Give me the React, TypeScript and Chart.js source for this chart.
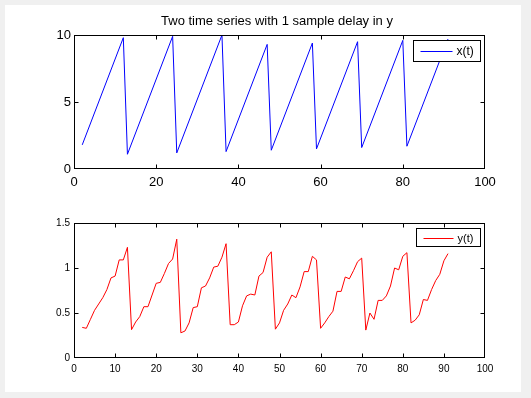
import React, { useEffect, useRef } from "react";
import { Chart, registerables } from "chart.js";

Chart.register(...registerables);

const titleText = "Two time series with 1 sample delay in y";

// x(t): sawtooth vertices (time, value)
const xTimes = [2, 12, 13, 24, 25, 36, 37, 47, 48, 58, 59, 69, 70, 80, 81, 91];
const xValues = [1.8, 9.8, 1.1, 9.9, 1.2, 10.0, 1.3, 9.3, 1.4, 9.4, 1.5, 9.5, 1.6, 9.6, 1.7, 9.7];

// y(t): one sample per time step
const yTimes = [
  2, 3, 4, 5, 6, 7, 8, 9, 10, 11, 12, 13, 14, 15, 16, 17, 18, 19, 20, 21, 22, 23, 24, 25,
  26, 27, 28, 29, 30, 31, 32, 33, 34, 35, 36, 37, 38, 39, 40, 41, 42, 43, 44, 45, 46, 47, 48,
  49, 50, 51, 52, 53, 54, 55, 56, 57, 58, 59, 60, 61, 62, 63, 64, 65, 66, 67, 68, 69, 70,
  71, 72, 73, 74, 75, 76, 77, 78, 79, 80, 81, 82, 83, 84, 85, 86, 87, 88, 89, 90, 91,
];
const yValues = [
  0.34, 0.33, 0.43, 0.53, 0.6, 0.67, 0.76, 0.89, 0.91, 1.09, 1.09, 1.23,
  0.315, 0.4, 0.46, 0.57, 0.57, 0.7, 0.83, 0.84, 0.94, 1.05, 1.1, 1.32,
  0.28, 0.3, 0.39, 0.56, 0.57, 0.78, 0.8, 0.89, 1.01, 1.02, 1.12, 1.27,
  0.37, 0.37, 0.4, 0.58, 0.69, 0.71, 0.7, 0.91, 0.95, 1.12, 1.18,
  0.32, 0.39, 0.53, 0.6, 0.7, 0.67, 0.79, 0.96, 0.96, 1.13, 1.09,
  0.33, 0.39, 0.46, 0.52, 0.74, 0.74, 0.9, 0.88, 0.97, 1.07, 1.11,
  0.31, 0.5, 0.43, 0.64, 0.64, 0.69, 0.8, 1.0, 0.98, 1.13, 1.17,
  0.39, 0.42, 0.48, 0.65, 0.64, 0.76, 0.86, 0.93, 1.08, 1.16,
];

const topXTicks = [0, 20, 40, 60, 80, 100];
const topYTicks = [0, 5, 10];
const botXTicks = [0, 10, 20, 30, 40, 50, 60, 70, 80, 90, 100];
const botYTicks = [0, 0.5, 1, 1.5];

const FONT = "'Liberation Sans', Arial, Helvetica, sans-serif";

type PanelCfg = {
  label: string;
  color: string;
  legendFont: number;
  box: { w: number; h: number };
  lineLen: number;
  title?: string;
};

function framePlugin(cfg: PanelCfg) {
  return {
    id: "frameLegend",
    afterDraw(chart: any) {
      const { ctx, chartArea: a, scales } = chart;
      const L = Math.round(a.left) + 0.5;
      const R = Math.round(a.right) - 0.5;
      const T = Math.round(a.top) + 0.5;
      const B = Math.round(a.bottom) - 0.5;
      ctx.save();
      ctx.strokeStyle = "#000";
      ctx.lineWidth = 1;
      ctx.strokeRect(L, T, R - L, B - T);
      const tl = 4;
      const clamp = (v: number, lo: number, hi: number) => Math.min(hi, Math.max(lo, v));
      ctx.beginPath();
      scales.x.ticks.forEach((t: any) => {
        const px = clamp(Math.round(scales.x.getPixelForValue(t.value)) + 0.5, L, R);
        ctx.moveTo(px, B);
        ctx.lineTo(px, B - tl);
        ctx.moveTo(px, T);
        ctx.lineTo(px, T + tl);
      });
      scales.y.ticks.forEach((t: any) => {
        const py = clamp(Math.round(scales.y.getPixelForValue(t.value)) + 0.5, T, B);
        ctx.moveTo(L, py);
        ctx.lineTo(L + tl, py);
        ctx.moveTo(R, py);
        ctx.lineTo(R - tl, py);
      });
      ctx.stroke();

      // legend box
      const bx = Math.round(a.right) - 5 - cfg.box.w + 0.5;
      const by = Math.round(a.top) + 5 + 0.5;
      ctx.fillStyle = "#fff";
      ctx.fillRect(bx, by, cfg.box.w, cfg.box.h);
      ctx.strokeStyle = "#000";
      ctx.strokeRect(bx, by, cfg.box.w, cfg.box.h);
      const cy = Math.round(by + cfg.box.h / 2) + 0.5;
      ctx.beginPath();
      ctx.strokeStyle = cfg.color;
      ctx.moveTo(bx + 7, cy);
      ctx.lineTo(bx + 7 + cfg.lineLen, cy);
      ctx.stroke();
      ctx.fillStyle = "#000";
      ctx.font = `${cfg.legendFont}px ${FONT}`;
      ctx.textAlign = "left";
      ctx.textBaseline = "middle";
      ctx.fillText(cfg.label, bx + 7 + cfg.lineLen + 4, cy);

      if (cfg.title) {
        ctx.font = `13px ${FONT}`;
        ctx.textAlign = "center";
        ctx.textBaseline = "alphabetic";
        ctx.fillStyle = "#000";
        ctx.fillText(cfg.title, 277, 25);
      }
      ctx.restore();
    },
  };
}

function makeScales(
  xTicks: number[],
  yTicks: number[],
  yMax: number,
  fontSize: number,
  yWidth: number,
  xHeight: number,
  xPad: number,
  yPad: number
) {
  const tickFont = { family: FONT, size: fontSize };
  return {
    x: {
      type: "linear",
      min: 0,
      max: 100,
      grid: { display: false, drawTicks: false },
      border: { display: false },
      ticks: { font: tickFont, color: "#000", padding: xPad, maxRotation: 0, autoSkip: false },
      afterBuildTicks: (s: any) => {
        s.ticks = xTicks.map((v) => ({ value: v }));
      },
      afterFit: (s: any) => {
        s.height = xHeight;
      },
    },
    y: {
      type: "linear",
      min: 0,
      max: yMax,
      grid: { display: false, drawTicks: false },
      border: { display: false },
      ticks: {
        font: tickFont,
        color: "#000",
        padding: yPad,
        autoSkip: false,
        callback: (v: any) => String(v),
      },
      afterBuildTicks: (s: any) => {
        s.ticks = yTicks.map((v) => ({ value: v }));
      },
      afterFit: (s: any) => {
        s.width = yWidth;
      },
    },
  };
}

export default function App() {
  const topRef = useRef<HTMLCanvasElement>(null);
  const botRef = useRef<HTMLCanvasElement>(null);

  useEffect(() => {
    const c1 = new Chart(topRef.current as HTMLCanvasElement, {
      type: "line",
      data: {
        datasets: [
          {
            label: "x(t)",
            data: xTimes.map((t, i) => ({ x: t, y: xValues[i] })),
            borderColor: "#0000ff",
            borderWidth: 1,
            pointRadius: 0,
            tension: 0,
            fill: false,
          },
        ],
      },
      options: {
        animation: false,
        responsive: false,
        devicePixelRatio: 1,
        layout: { padding: { top: 35, right: 46, left: 0, bottom: 0 } },
        plugins: { legend: { display: false }, title: { display: false }, tooltip: { enabled: false } },
        scales: makeScales(topXTicks, topYTicks, 10, 13, 74, 31, 6, 3) as any,
      },
      plugins: [
        framePlugin({
          label: "x(t)",
          color: "#0000ff",
          legendFont: 12,
          box: { w: 67, h: 21 },
          lineLen: 32,
          title: titleText,
        }),
      ],
    });
    const c2 = new Chart(botRef.current as HTMLCanvasElement, {
      type: "line",
      data: {
        datasets: [
          {
            label: "y(t)",
            data: yTimes.map((t, i) => ({ x: t, y: yValues[i] })),
            borderColor: "#ff0000",
            borderWidth: 1,
            pointRadius: 0,
            tension: 0,
            fill: false,
          },
        ],
      },
      options: {
        animation: false,
        responsive: false,
        devicePixelRatio: 1,
        layout: { padding: { top: 23, right: 46, left: 0, bottom: 0 } },
        plugins: { legend: { display: false }, title: { display: false }, tooltip: { enabled: false } },
        scales: makeScales(botXTicks, botYTicks, 1.5, 10, 74, 40, 5, 4) as any,
      },
      plugins: [
        framePlugin({
          label: "y(t)",
          color: "#ff0000",
          legendFont: 11,
          box: { w: 64, h: 18 },
          lineLen: 30,
        }),
      ],
    });
    return () => {
      c1.destroy();
      c2.destroy();
    };
  }, []);

  return (
    <div style={{ position: "fixed", left: 0, top: 0, width: 531, height: 398, background: "#f0f0f0", overflow: "hidden" }}>
      <div style={{ position: "absolute", left: 5, top: 5, width: 516, height: 387, background: "#fff" }} />
      <canvas ref={topRef} width={531} height={200} style={{ position: "absolute", left: 0, top: 0, width: 531, height: 200 }} />
      <canvas ref={botRef} width={531} height={198} style={{ position: "absolute", left: 0, top: 200, width: 531, height: 198 }} />
    </div>
  );
}
